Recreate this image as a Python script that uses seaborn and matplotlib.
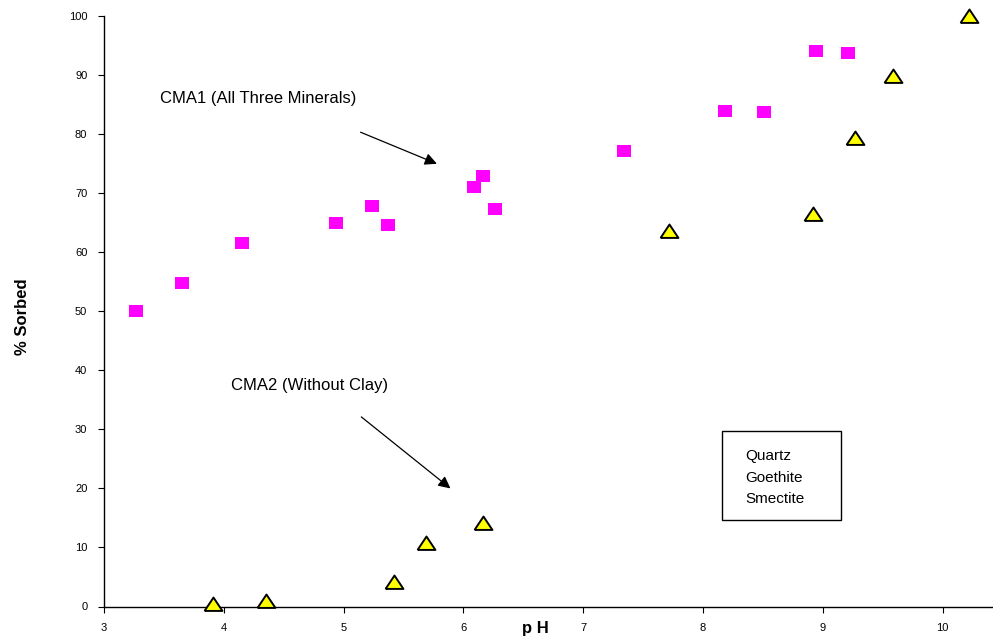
import matplotlib
matplotlib.use("Agg")
import matplotlib.pyplot as plt
import matplotlib.patches as mpatches
import seaborn as sns
import pandas as pd

# CMA1 (All Three Minerals) - magenta squares
cma1_ph = [3.27, 3.65, 4.15, 4.94, 5.24, 5.37, 6.09, 6.16, 6.26, 7.34, 8.18, 8.51, 8.94, 9.21]
cma1_sorbed = [50.0, 54.8, 61.6, 65.0, 67.8, 64.6, 71.1, 72.9, 67.4, 77.1, 83.9, 83.7, 94.0, 93.7]

# CMA2 (Without Clay) - yellow triangles
cma2_ph = [3.91, 4.35, 5.42, 5.69, 6.16, 7.72, 8.92, 9.27, 9.59, 10.22]
cma2_sorbed = [0.5, 1.0, 4.2, 10.8, 14.2, 63.6, 66.4, 79.3, 89.8, 100.0]

x_ticks = [3, 4, 5, 6, 7, 8, 9, 10]
y_ticks = [0, 10, 20, 30, 40, 50, 60, 70, 80, 90, 100]
legend_lines = ["Quartz", "Goethite", "Smectite"]

sns.set_style("ticks")
plt.rcParams['font.family'] = ['Liberation Sans', 'DejaVu Sans']
plt.rcParams['text.color'] = 'black'
plt.rcParams['axes.labelcolor'] = 'black'

fig = plt.figure(figsize=(9.93, 6.42), dpi=100)
ax = fig.add_axes([104/993, 1 - 606.5/642, 1 - 104/993, (606.5 - 16)/642])

df1 = pd.DataFrame({"pH": cma1_ph, "sorbed": cma1_sorbed})
df2 = pd.DataFrame({"pH": cma2_ph, "sorbed": cma2_sorbed})

rect_marker = [(-1, -0.8), (1, -0.8), (1, 0.8), (-1, 0.8), (-1, -0.8)]
tri_marker = [(-1, -0.72), (1, -0.72), (0, 0.78), (-1, -0.72)]

sns.scatterplot(data=df1, x="pH", y="sorbed", ax=ax, marker=rect_marker, s=115,
                color="#FF00FF", edgecolor="#FF00FF", linewidth=0, clip_on=False, zorder=3)
sns.scatterplot(data=df2, x="pH", y="sorbed", ax=ax, marker=tri_marker, s=165,
                color="#FFFF00", edgecolor="black", linewidth=1.4, clip_on=False, zorder=3)

ax.set_xlim(3, 3 + (993 - 104) / 119.8)
ax.set_ylim(0, 100)
ax.set_xticks(x_ticks)
ax.set_yticks(y_ticks)
ax.set_xticklabels([str(t) for t in x_ticks], fontsize=8)
ax.set_yticklabels([str(t) for t in y_ticks], fontsize=8)
ax.tick_params(axis="both", direction="out", length=4, width=0.8, colors="black",
               labelcolor="black", pad=8)
for side in ["top", "right"]:
    ax.spines[side].set_visible(False)
for side in ["left", "bottom"]:
    ax.spines[side].set_color("black")
    ax.spines[side].set_linewidth(1.0)

ax.set_xlabel("p H", fontsize=12, fontweight="bold")
ax.xaxis.set_label_coords((535 - 104) / (993 - 104), -0.024)
ax.set_ylabel("% Sorbed", fontsize=12, fontweight="bold")
ax.yaxis.set_label_coords(-0.083, 0.49)

ax.annotate("", xy=(5.80, 74.8), xytext=(5.12, 80.5),
            arrowprops=dict(arrowstyle="-|>", color="black", lw=0.9, mutation_scale=18))
ax.text(3.47, 86.1, "CMA1 (All Three Minerals)", fontsize=12, va="center", ha="left")

ax.annotate("", xy=(5.91, 19.7), xytext=(5.13, 32.4),
            arrowprops=dict(arrowstyle="-|>", color="black", lw=0.9, mutation_scale=18))
ax.text(4.06, 37.5, "CMA2 (Without Clay)", fontsize=12, va="center", ha="left")

ax.add_patch(mpatches.Rectangle((8.16, 14.6), 0.99, 15.2, facecolor="white",
                                edgecolor="black", linewidth=1.0, zorder=2))
ax.text(8.35, 21.8, "\n".join(legend_lines), fontsize=11, va="center", ha="left",
        linespacing=1.7, zorder=4)

fig.savefig("out.png", dpi=100)
